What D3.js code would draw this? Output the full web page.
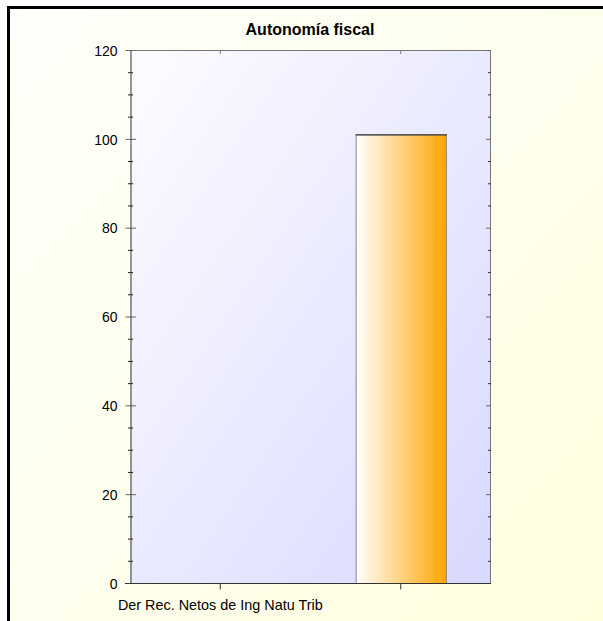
<!DOCTYPE html>
<html>
<head>
<meta charset="utf-8">
<script src="https://cdn.jsdelivr.net/npm/d3@7"></script>
<style>
html,body{margin:0;padding:0;background:#fff;}
svg{display:block;}
text{font-family:"Liberation Sans",Arial,sans-serif;fill:#000;}
</style>
</head>
<body>
<script>
const title = "Autonomía fiscal";
const categories = ["Der Rec. Netos de Ing Natu Trib", ""];
const values = [null, 101];
const yTicks = [0, 20, 40, 60, 80, 100, 120];
const yMinorTicks = d3.range(0, 121, 5).filter(v => v % 20 !== 0);

const W = 603, H = 621;
const M = {left: 130, right: 491, top: 50, bottom: 583};

const svg = d3.select("body").append("svg").attr("width", W).attr("height", H);
const defs = svg.append("defs");

const bgGrad = defs.append("linearGradient").attr("id", "bg")
  .attr("x1", "0").attr("y1", "0").attr("x2", "1").attr("y2", "1");
bgGrad.append("stop").attr("offset", "0").attr("stop-color", "#fffffb");
bgGrad.append("stop").attr("offset", "1").attr("stop-color", "#ffffe0");

const plotGrad = defs.append("linearGradient").attr("id", "plotbg")
  .attr("x1", "0").attr("y1", "0").attr("x2", "1").attr("y2", "1");
plotGrad.append("stop").attr("offset", "0").attr("stop-color", "#fcfcff");
plotGrad.append("stop").attr("offset", "1").attr("stop-color", "#d8d8ff");

const barGrad = defs.append("linearGradient").attr("id", "bar")
  .attr("x1", "0").attr("y1", "0").attr("x2", "1").attr("y2", "0");
barGrad.append("stop").attr("offset", "0").attr("stop-color", "#ffffff");
barGrad.append("stop").attr("offset", "1").attr("stop-color", "#ffa500");

// frame background
svg.append("rect").attr("x", 7).attr("y", 6).attr("width", W - 7).attr("height", H - 6)
  .attr("fill", "url(#bg)");
// frame borders (left & top)
svg.append("rect").attr("x", 7).attr("y", 6).attr("width", 3).attr("height", H - 6).attr("fill", "#000");
svg.append("rect").attr("x", 7).attr("y", 6).attr("width", W - 7).attr("height", 3).attr("fill", "#000");

// title
svg.append("text").attr("x", 310).attr("y", 35).attr("text-anchor", "middle")
  .attr("font-size", 16).attr("font-weight", "bold").text(title);

const x = d3.scaleBand().domain(d3.range(categories.length)).range([M.left, M.right]);
const y = d3.scaleLinear().domain([0, 120]).range([M.bottom, M.top]);

// plot area
svg.append("rect").attr("x", M.left).attr("y", M.top)
  .attr("width", M.right - M.left).attr("height", M.bottom - M.top)
  .attr("fill", "url(#plotbg)");

// top & right border
svg.append("line").attr("x1", M.left).attr("x2", M.right).attr("y1", M.top + 0.5).attr("y2", M.top + 0.5)
  .attr("stroke", "#777");
svg.append("line").attr("x1", M.right - 0.5).attr("x2", M.right - 0.5).attr("y1", M.top).attr("y2", M.bottom)
  .attr("stroke", "#777");

// top category ticks
const topAxis = d3.axisBottom(x).tickFormat("").tickSizeOuter(0).tickSizeInner(4);
svg.append("g").attr("transform", `translate(0,${M.top})`).call(topAxis)
  .call(g => g.select(".domain").remove())
  .call(g => g.selectAll("line").attr("stroke", "#777"));

// right ticks (inward)
const rightMajor = d3.axisLeft(y).tickValues(yTicks).tickFormat("").tickSizeOuter(0).tickSizeInner(5);
svg.append("g").attr("transform", `translate(${M.right},0)`).call(rightMajor)
  .call(g => g.select(".domain").remove())
  .call(g => g.selectAll("line").attr("stroke", "#666"));
const rightMinor = d3.axisLeft(y).tickValues(yMinorTicks).tickFormat("").tickSizeOuter(0).tickSizeInner(3);
svg.append("g").attr("transform", `translate(${M.right},0)`).call(rightMinor)
  .call(g => g.select(".domain").remove())
  .call(g => g.selectAll("line").attr("stroke", "#333"));

// left inward ticks
const leftInMajor = d3.axisRight(y).tickValues(yTicks).tickFormat("").tickSizeOuter(0).tickSizeInner(6);
svg.append("g").attr("transform", `translate(${M.left},0)`).call(leftInMajor)
  .call(g => g.select(".domain").remove())
  .call(g => g.selectAll("line").attr("stroke", "#666"));
const leftInMinor = d3.axisRight(y).tickValues(yMinorTicks).tickFormat("").tickSizeOuter(0).tickSizeInner(3);
svg.append("g").attr("transform", `translate(${M.left},0)`).call(leftInMinor)
  .call(g => g.select(".domain").remove())
  .call(g => g.selectAll("line").attr("stroke", "#222"));
const leftOutMinor = d3.axisLeft(y).tickValues(yMinorTicks).tickFormat("").tickSizeOuter(0).tickSizeInner(2);
svg.append("g").attr("transform", `translate(${M.left},0)`).call(leftOutMinor)
  .call(g => g.select(".domain").remove())
  .call(g => g.selectAll("line").attr("stroke", "#222"));

// bars
svg.append("g").selectAll("rect")
  .data(values.map((v, i) => ({v, i})).filter(d => d.v != null))
  .join("rect")
  .attr("x", d => x(d.i) + x.bandwidth() / 4 + 0.5)
  .attr("y", d => y(d.v) + 0.5)
  .attr("width", x.bandwidth() / 2)
  .attr("height", d => y(0) - y(d.v))
  .attr("fill", "url(#bar)")
  .attr("stroke", "#888");
svg.append("g").selectAll("line")
  .data(values.map((v, i) => ({v, i})).filter(d => d.v != null))
  .join("line")
  .attr("x1", d => x(d.i) + x.bandwidth() / 4)
  .attr("x2", d => x(d.i) + x.bandwidth() * 3 / 4 + 1)
  .attr("y1", d => y(d.v) + 0.5)
  .attr("y2", d => y(d.v) + 0.5)
  .attr("stroke", "#222");

// left axis (labels, outward major ticks)
const leftAxis = d3.axisLeft(y).tickValues(yTicks).tickSizeOuter(0).tickSizeInner(5).tickPadding(8);
svg.append("g").attr("transform", `translate(${M.left + 0.5},0)`).call(leftAxis)
  .call(g => g.select(".domain").attr("stroke", "#333"))
  .call(g => g.selectAll("line").attr("stroke", "#666"))
  .call(g => g.selectAll("text").attr("font-size", 14).attr("dy", "0.38em")
    .attr("font-family", "Liberation Sans, Arial, sans-serif").attr("fill", "#000"));

// bottom axis
const bottomAxis = d3.axisBottom(x).tickFormat(i => categories[i]).tickSizeOuter(0).tickSizeInner(6).tickPadding(10);
svg.append("g").attr("transform", `translate(0,${M.bottom + 0.5})`).call(bottomAxis)
  .call(g => g.select(".domain").attr("stroke", "#333").attr("d", `M${M.left - 5},0H${M.right}`))
  .call(g => g.selectAll("line").attr("stroke", "#333"))
  .call(g => g.selectAll("text").attr("font-size", 14.4)
    .attr("font-family", "Liberation Sans, Arial, sans-serif").attr("fill", "#000"));
</script>
</body>
</html>
